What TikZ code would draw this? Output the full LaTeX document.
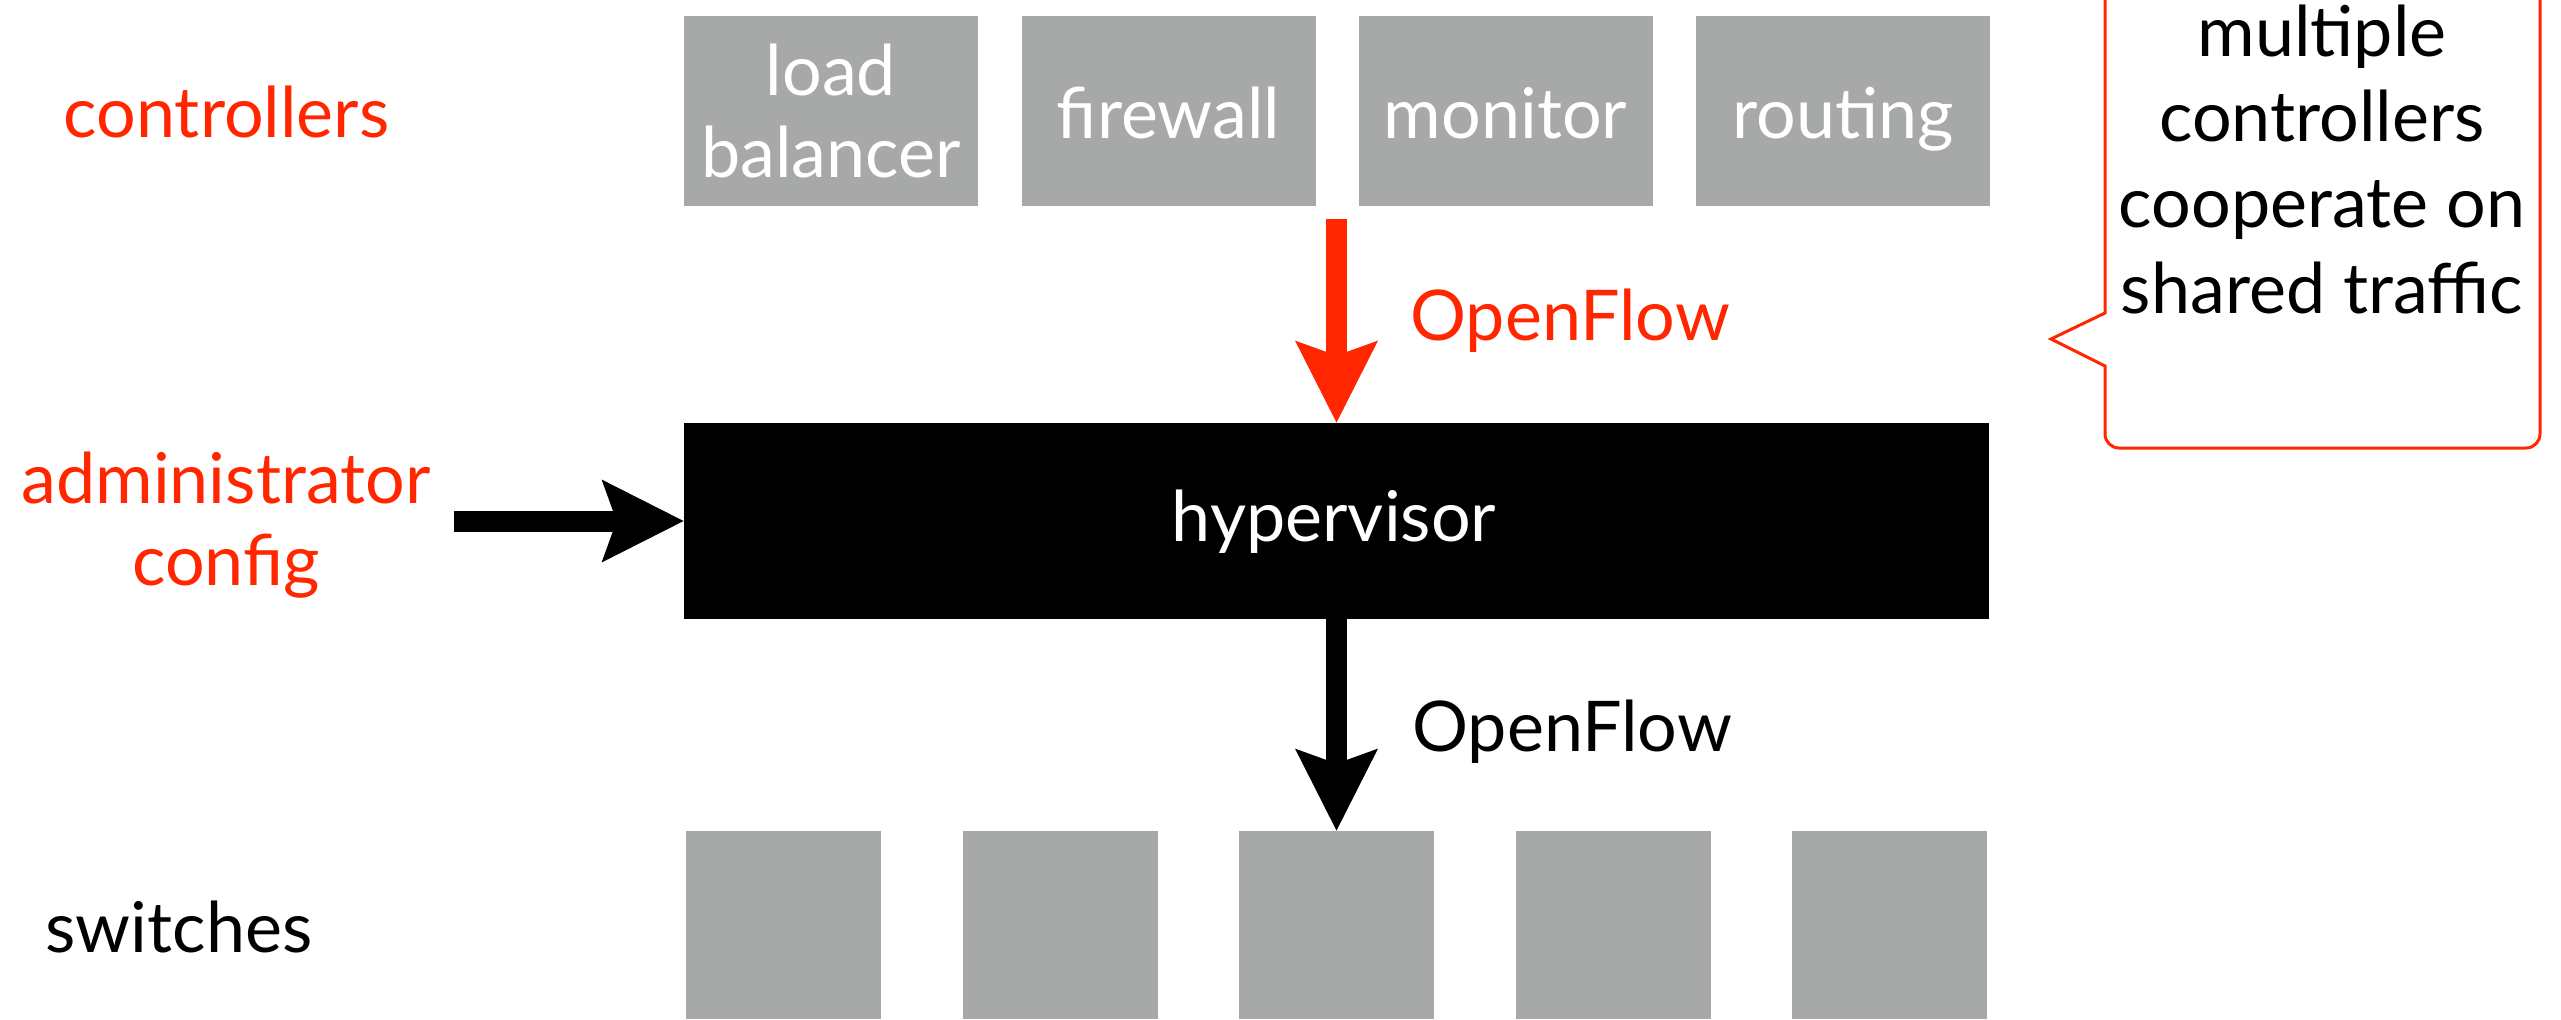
\documentclass[tikz,border=0pt]{standalone}
\usepackage{fontspec}
\setmainfont{Lato}
\usetikzlibrary{arrows.meta}
\definecolor{kred}{RGB}{255,38,0}
\definecolor{kgray}{RGB}{166,169,168}
\begin{document}
\begin{tikzpicture}[x=0.5pt,y=-0.5pt,
  ctrl/.style={fill=kgray, inner sep=0pt, minimum width=147pt, minimum height=95pt},
  swbox/.style={fill=kgray, inner sep=0pt, minimum width=97.5pt, minimum height=94pt},
  txt/.style={font=\fontsize{35}{41}\selectfont, inner sep=0pt, align=center},
  fat/.style={line width=10.5pt, -{Stealth[length=41pt,width=41.5pt,inset=7.5pt,line width=0pt]}},
]
\useasboundingbox (0,0) rectangle (2561,1019);
% controllers
\node[ctrl] (c1) at (831,111) {};
\node[ctrl] (c2) at (1168.5,111) {};
\node[ctrl] (c3) at (1505.5,111) {};
\node[ctrl] (c4) at (1843,111) {};
\node[txt, text=white, anchor=base] (t1) at (831,177) {load\\balancer};
\node[txt, text=white, anchor=base] (t2) at (1168.5,138) {firewall};
\node[txt, text=white, anchor=base] (t3) at (1505.5,138) {monitor};
\node[txt, text=white, anchor=base] (t4) at (1843,138) {routing};
% hypervisor
\node[fill=black, inner sep=0pt, minimum width=652.5pt, minimum height=98pt] (hv) at (1336.5,521) {};
\node[txt, text=white, anchor=base] (thv) at (1334,541) {hypervisor};
% switches
\node[swbox] (s1) at (783.5,925) {};
\node[swbox] (s2) at (1060,925) {};
\node[swbox] (s3) at (1336.5,925) {};
\node[swbox] (s4) at (1613.5,925) {};
\node[swbox] (s5) at (1889.5,925) {};
% labels
\node[txt, text=kred, anchor=base] (lctrl) at (226.5,137) {controllers};
\node[txt, text=kred, anchor=base] (ladmin) at (226,585) {administrator\\config};
\node[txt, anchor=base] (lsw) at (179,952) {switches};
\node[txt, text=kred, anchor=base west] (of1) at (1410,340) {OpenFlow};
\node[txt, anchor=base west] (of2) at (1412,751) {OpenFlow};
% arrows
\coordinate (rs) at (1336.5,219);
\coordinate (ls) at (454,521);
\draw[fat, kred] (rs) -- (hv.north);
\draw[fat] (hv.south) -- (s3.north);
\draw[fat] (ls) -- (hv.west);
% callout
\draw[kred, line width=1.5pt, fill=white] (2105,366) -- (2051,339) -- (2105,313) -- (2105,-40) -- (2540,-40) [rounded corners=7pt] -- (2540,448) -- (2105,448) -- (2105,400) [sharp corners] -- cycle;
\node[txt, font=\fontsize{35}{42.8}\selectfont, anchor=base] (note) at (2322,313) {multiple\\controllers\\cooperate on\\shared traffic};
\end{tikzpicture}
\end{document}
